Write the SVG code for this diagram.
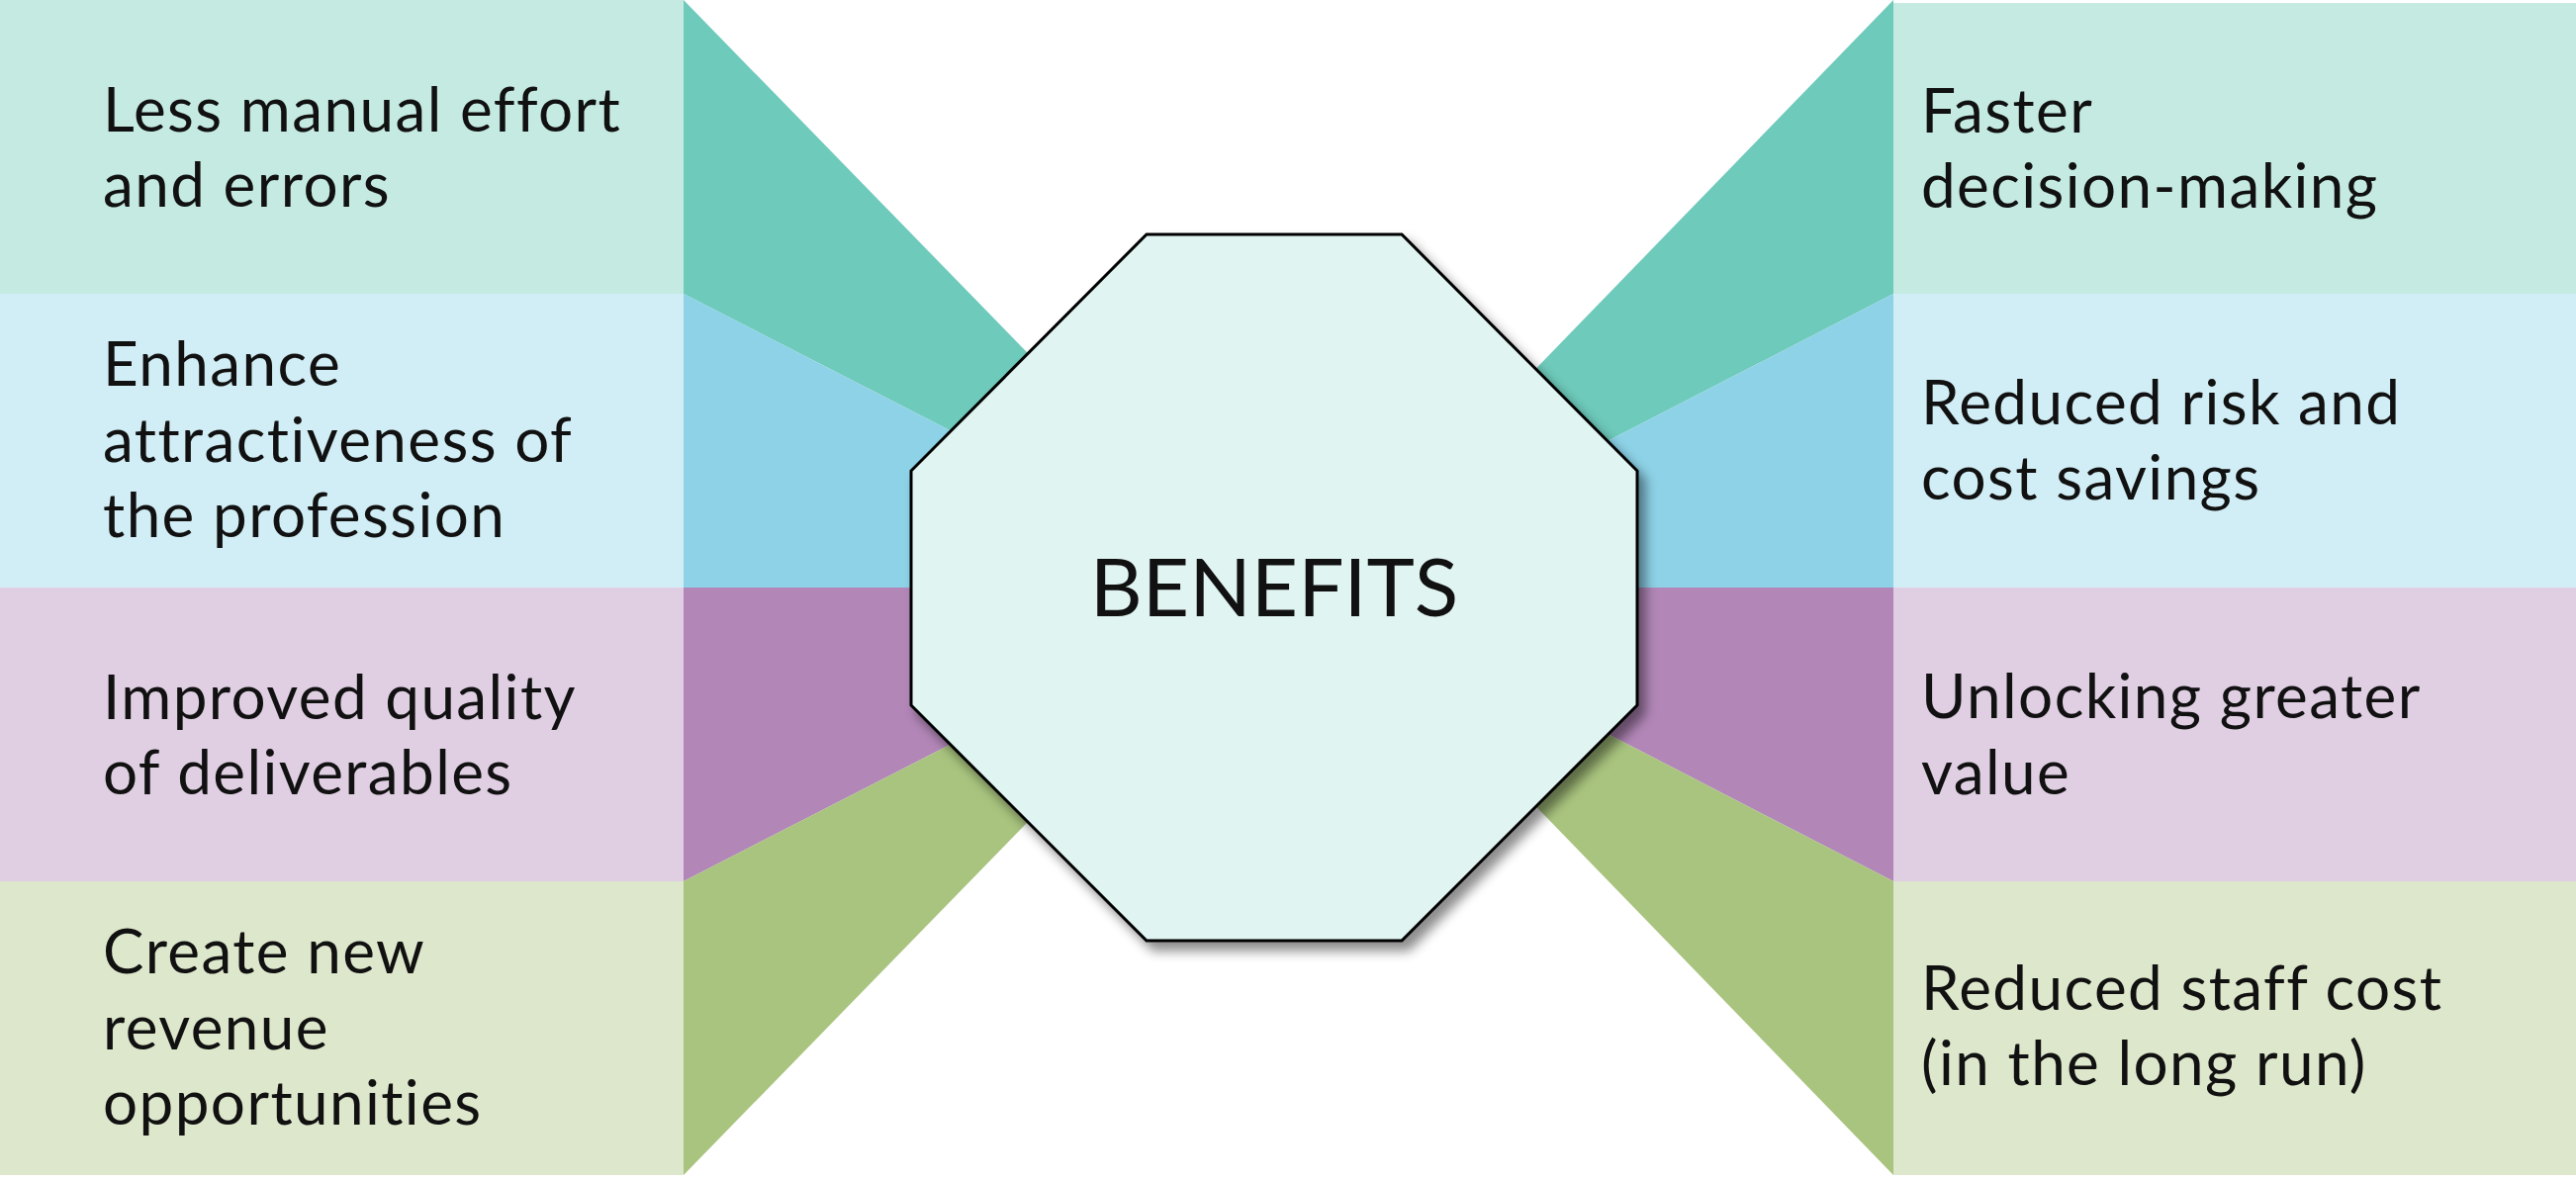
<svg xmlns="http://www.w3.org/2000/svg" width="2604" height="1194" viewBox="0 0 2604 1194">
<style>
.t{font-family:"Lato","Noto Sans","Liberation Sans",sans-serif;font-size:62px;letter-spacing:1.4px;fill:#111;font-variant-ligatures:none;}
.c{font-family:"Lato","Noto Sans","Liberation Sans",sans-serif;font-size:82px;fill:#111;}
.teal-l{fill:#C4EAE2}.teal-d{fill:#6ECABB}
.blue-l{fill:#D1EDF5}.blue-d{fill:#8DD2E7}
.purp-l{fill:#E0CEE3}.purp-d{fill:#B287B8}
.grn-l{fill:#DDE7CB}.grn-d{fill:#A8C47E}
</style>
<defs>
<filter id="sh" x="-10%" y="-10%" width="125%" height="125%">
<feDropShadow dx="7" dy="9" stdDeviation="6" flood-color="#000" flood-opacity="0.45"/>
</filter>
</defs>
<rect width="2604" height="1194" fill="#fff"/>
<g id="connectors">
<polygon class="teal-d" points="691,0 1270,594 691,297"/>
<polygon class="blue-d" points="691,297 1270,594 691,594"/>
<polygon class="purp-d" points="691,594 1270,594 691,891"/>
<polygon class="grn-d" points="691,891 1270,594 691,1188"/>
<polygon class="teal-d" points="1914,0 1338,594 1914,297"/>
<polygon class="blue-d" points="1914,297 1338,594 1914,594"/>
<polygon class="purp-d" points="1914,594 1338,594 1914,891"/>
<polygon class="grn-d" points="1914,891 1338,594 1914,1188"/>
</g>
<g id="left1"><rect class="teal-l" x="0" y="0" width="691" height="297"/>
<text class="t" x="104" y="133">Less manual effort</text><text class="t" x="104" y="209">and errors</text></g>
<g id="left2"><rect class="blue-l" x="0" y="297" width="691" height="297"/>
<text class="t" x="104" y="390">Enhance</text><text class="t" x="104" y="467">attractiveness of</text><text class="t" x="104" y="543">the profession</text></g>
<g id="left3"><rect class="purp-l" x="0" y="594" width="691" height="297"/>
<text class="t" x="104" y="727">Improved quality</text><text class="t" x="104" y="803">of deliverables</text></g>
<g id="left4"><rect class="grn-l" x="0" y="891" width="691" height="297"/>
<text class="t" x="104" y="984">Create new</text><text class="t" x="104" y="1061">revenue</text><text class="t" x="104" y="1137">opportunities</text></g>
<g id="right1"><rect class="teal-l" x="1914" y="3" width="690" height="294"/>
<text class="t" x="1942" y="134">Faster</text><text class="t" x="1942" y="210">decision-making</text></g>
<g id="right2"><rect class="blue-l" x="1914" y="297" width="690" height="297"/>
<text class="t" x="1942" y="429">Reduced risk and</text><text class="t" x="1942" y="505">cost savings</text></g>
<g id="right3"><rect class="purp-l" x="1914" y="594" width="690" height="297"/>
<text class="t" x="1942" y="726">Unlocking greater</text><text class="t" x="1942" y="803">value</text></g>
<g id="right4"><rect class="grn-l" x="1914" y="891" width="690" height="297"/>
<text class="t" x="1942" y="1021">Reduced staff cost</text><text class="t" x="1942" y="1097">(in the long run)</text></g>
<g id="center">
<polygon points="1159,237 1417,237 1655,476 1655,713 1417,951 1159,951 921,713 921,476" fill="#E0F4F2" stroke="#000" stroke-width="3" filter="url(#sh)"/>
<text class="c" x="1288" y="623" text-anchor="middle">BENEFITS</text>
</g>
</svg>
